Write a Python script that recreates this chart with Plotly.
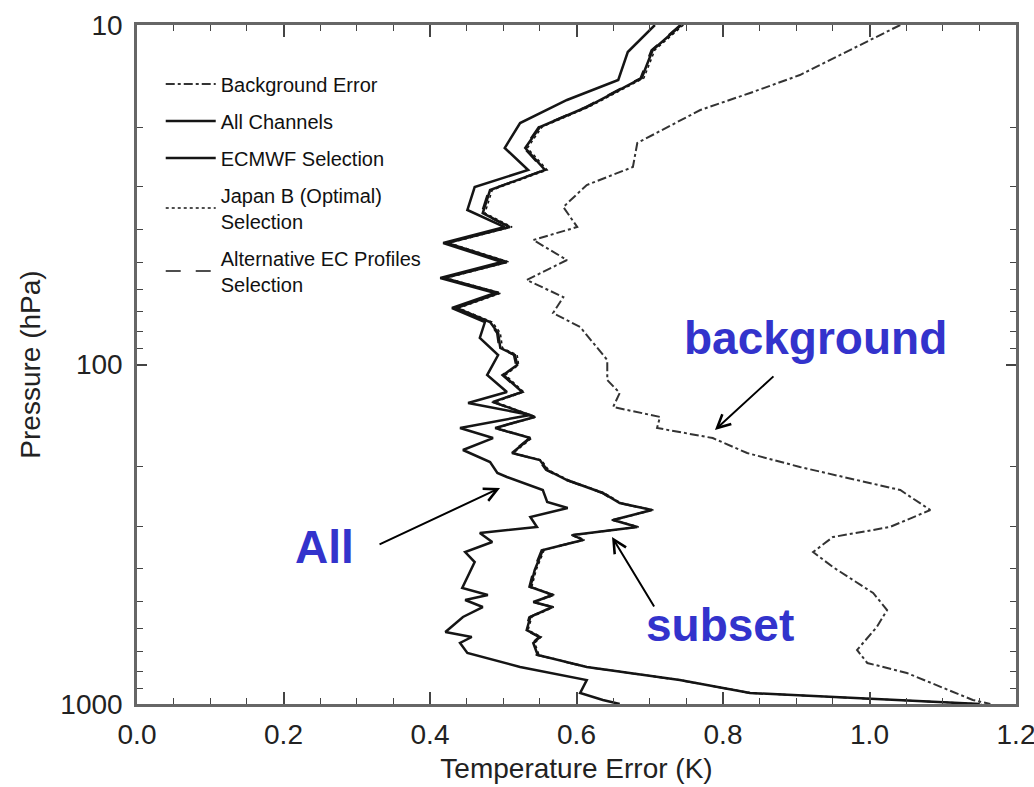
import plotly.graph_objects as go

# ---------------- data ----------------
bg_p = [10, 12.26, 14.04, 15.86, 17.80, 22.26, 26.20, 29.60, 34.37, 39.36,
        42.98, 49.23, 56.37, 63.29, 70.53, 77.55, 97.0, 111.1, 121.3, 133.4,
        142.7, 153.8, 164.7, 182.3, 200.4, 234.3, 268.3, 301.0, 322.2, 356.8,
        395.0, 471.0, 528.6, 593.2, 693.2, 757.2, 810.4, 973.2, 1000]
bg_t = [1.042, 0.960, 0.905, 0.837, 0.769, 0.683, 0.677, 0.614, 0.582, 0.601,
        0.541, 0.587, 0.532, 0.582, 0.568, 0.605, 0.642, 0.642, 0.659, 0.650,
        0.714, 0.710, 0.786, 0.833, 0.905, 1.042, 1.083, 1.028, 0.950, 0.923,
        0.950, 1.005, 1.024, 1.010, 0.983, 0.997, 1.051, 1.141, 1.165]

all_p = [10, 12.01, 14.52, 16.63, 19.44, 23.03, 26.74, 30.01, 35.07, 39.36,
         43.86, 49.90, 55.64, 61.58, 68.17, 74.97, 83.54, 93.76, 107.4, 120.5,
         129.9, 140.8, 153.8, 164.7, 178.6, 193.8, 208.7, 214.5, 234.3, 254.1,
         264.6, 281.3, 301.0, 313.5, 333.3, 356.8, 381.8, 455.3, 477.4, 493.9,
         518.0, 554.2, 613.6, 634.8, 661.2, 707.7, 778.0, 850.1, 928.1, 973.2, 1000]
all_t = [0.707, 0.670, 0.657, 0.587, 0.523, 0.502, 0.534, 0.461, 0.451, 0.502,
         0.418, 0.498, 0.414, 0.489, 0.430, 0.475, 0.468, 0.493, 0.478, 0.505,
         0.452, 0.537, 0.441, 0.486, 0.445, 0.482, 0.492, 0.505, 0.554, 0.560,
         0.588, 0.537, 0.546, 0.468, 0.485, 0.448, 0.461, 0.444, 0.479, 0.448,
         0.472, 0.445, 0.421, 0.457, 0.441, 0.451, 0.523, 0.614, 0.605, 0.636, 0.659]

sub_p = [10, 11.85, 14.33, 17.44, 19.97, 23.03, 26.74, 30.62, 35.80, 39.36,
         43.86, 49.90, 55.64, 61.58, 68.17, 74.97, 80.74, 89.42, 93.76, 100.3,
         107.4, 120.5, 128.9, 142.7, 153.8, 164.7, 182.3, 191.1, 204.6, 218.9,
         239.0, 255.9, 268.3, 287.1, 301.0, 311.5, 317.9, 328.8, 351.9, 402.9,
         452.2, 477.4, 500.7, 518.0, 554.2, 605.4, 634.8, 661.2, 717.4, 778.0,
         850.1, 928.1, 960.1, 1000]
ecmwf_t = [0.743, 0.704, 0.689, 0.614, 0.550, 0.530, 0.557, 0.482, 0.472, 0.509,
           0.423, 0.505, 0.419, 0.494, 0.436, 0.482, 0.493, 0.496, 0.516, 0.519,
           0.500, 0.526, 0.486, 0.543, 0.489, 0.537, 0.512, 0.550, 0.560, 0.587,
           0.636, 0.659, 0.703, 0.650, 0.683, 0.623, 0.595, 0.609, 0.554, 0.543,
           0.537, 0.568, 0.541, 0.567, 0.537, 0.532, 0.550, 0.541, 0.547, 0.614,
           0.741, 0.837, 0.973, 1.151]
japan_t = [0.746, 0.707, 0.692, 0.617, 0.553, 0.533, 0.560, 0.485, 0.475, 0.512,
           0.426, 0.508, 0.422, 0.497, 0.439, 0.485, 0.496, 0.499, 0.519, 0.521,
           0.503, 0.528, 0.489, 0.545, 0.491, 0.539, 0.514, 0.552, 0.562, 0.589,
           0.638, 0.661, 0.705, 0.652, 0.685, 0.625, 0.597, 0.611, 0.556, 0.545,
           0.539, 0.570, 0.543, 0.569, 0.539, 0.534, 0.552, 0.543, 0.549, 0.616,
           0.743, 0.839, 0.975, 1.153]
alt_t = [0.741, 0.702, 0.687, 0.612, 0.548, 0.528, 0.555, 0.480, 0.470, 0.507,
         0.421, 0.503, 0.417, 0.492, 0.434, 0.480, 0.491, 0.494, 0.514, 0.517,
         0.498, 0.524, 0.484, 0.541, 0.487, 0.535, 0.510, 0.548, 0.558, 0.585,
         0.634, 0.657, 0.701, 0.648, 0.681, 0.621, 0.593, 0.607, 0.552, 0.541,
         0.535, 0.566, 0.539, 0.565, 0.535, 0.530, 0.548, 0.539, 0.545, 0.612,
         0.739, 0.835, 0.971, 1.149]

x_ticks = [0.0, 0.2, 0.4, 0.6, 0.8, 1.0, 1.2]
x_ticklabels = ["0.0", "0.2", "0.4", "0.6", "0.8", "1.0", "1.2"]
y_ticks = [10, 100, 1000]
y_ticklabels = ["10", "100", "1000"]
y_minor = [20, 30, 40, 50, 60, 70, 80, 90, 200, 300, 400, 500, 600, 700, 800, 900]

FONT = "Liberation Sans, Arial, sans-serif"
LINE = "#151515"
BLUE = "#3333cc"

fig = go.Figure()
fig.add_trace(go.Scatter(x=bg_t, y=bg_p, mode="lines", name="Background Error",
                         legendgroup="a",
                         line=dict(color="#333333", width=2, dash="dashdot")))
fig.add_trace(go.Scatter(x=all_t, y=all_p, mode="lines", name="All Channels",
                         legendgroup="b",
                         line=dict(color=LINE, width=2.5)))
fig.add_trace(go.Scatter(x=ecmwf_t, y=sub_p, mode="lines", name="ECMWF Selection",
                         legendgroup="c",
                         line=dict(color=LINE, width=2.5)))
fig.add_trace(go.Scatter(x=japan_t, y=sub_p, mode="lines",
                         name="Japan B (Optimal)<br>Selection",
                         legendgroup="d",
                         line=dict(color=LINE, width=1.5, dash="dot")))
fig.add_trace(go.Scatter(x=alt_t, y=sub_p, mode="lines",
                         name="Alternative EC Profiles<br>Selection",
                         legendgroup="e",
                         line=dict(color=LINE, width=1.5, dash="longdash")))

# text labels
fig.add_annotation(x=0.9256, y=1.922, xref="x", yref="y", text="<b>background</b>",
                   showarrow=False, font=dict(family=FONT, size=46, color=BLUE))
fig.add_annotation(x=0.2553, y=2.5376, xref="x", yref="y", text="<b>All</b>",
                   showarrow=False, font=dict(family=FONT, size=46, color=BLUE))
fig.add_annotation(x=0.7959, y=2.7673, xref="x", yref="y", text="<b>subset</b>",
                   showarrow=False, font=dict(family=FONT, size=46, color=BLUE))

# arrows
arrow_style = dict(xref="x", yref="y", text="", showarrow=True, arrowhead=5,
                   arrowsize=1.3, arrowwidth=2, arrowcolor="black", standoff=0)
fig.add_annotation(x=0.789, y=2.1929, ax=60, ay=-55, **arrow_style)
fig.add_annotation(x=0.4956, y=2.3638, ax=-122, ay=57, **arrow_style)
fig.add_annotation(x=0.6485, y=2.5081, ax=43, ay=71, **arrow_style)

axis_common = dict(showline=True, linecolor="#666666", linewidth=2.5, mirror="ticks",
                   ticks="inside", tickcolor="#444444", tickwidth=1.5,
                   showgrid=False, zeroline=False, ticklabeloverflow="allow",
                   automargin=False,
                   tickfont=dict(family=FONT, size=28, color="#222222"),
                   title_font=dict(family=FONT, size=28, color="#222222"))

fig.update_xaxes(range=[0, 1.2], tickmode="array", tickvals=x_ticks, ticktext=x_ticklabels,
                 ticklen=12, ticklabelstandoff=4,
                 minor=dict(ticks="inside", dtick=0.05, ticklen=6, tickcolor="#444444",
                            tickwidth=1.2),
                 title_text="Temperature Error (K)", title_standoff=10,
                 **axis_common)
fig.update_yaxes(type="log", range=[3, 1], tickmode="array", tickvals=y_ticks,
                 ticktext=y_ticklabels, ticklen=10, ticklabelstandoff=6,
                 minor=dict(ticks="inside", tickmode="array", tickvals=y_minor, ticklen=6,
                            tickcolor="#444444", tickwidth=1.2),
                 title_text="Pressure (hPa)", title_standoff=12,
                 **axis_common)

fig.update_layout(
    width=1034, height=787,
    margin=dict(l=137, r=18, t=25, b=83, autoexpand=False),
    plot_bgcolor="white", paper_bgcolor="white",
    font=dict(family=FONT, color="#111111"),
    legend=dict(x=0.027, y=0.942, xanchor="left", yanchor="top",
                bgcolor="rgba(0,0,0,0)", font=dict(family=FONT, size=20, color="#111111"),
                traceorder="grouped", tracegroupgap=8, itemwidth=50),
)

fig.write_html("out.html")
